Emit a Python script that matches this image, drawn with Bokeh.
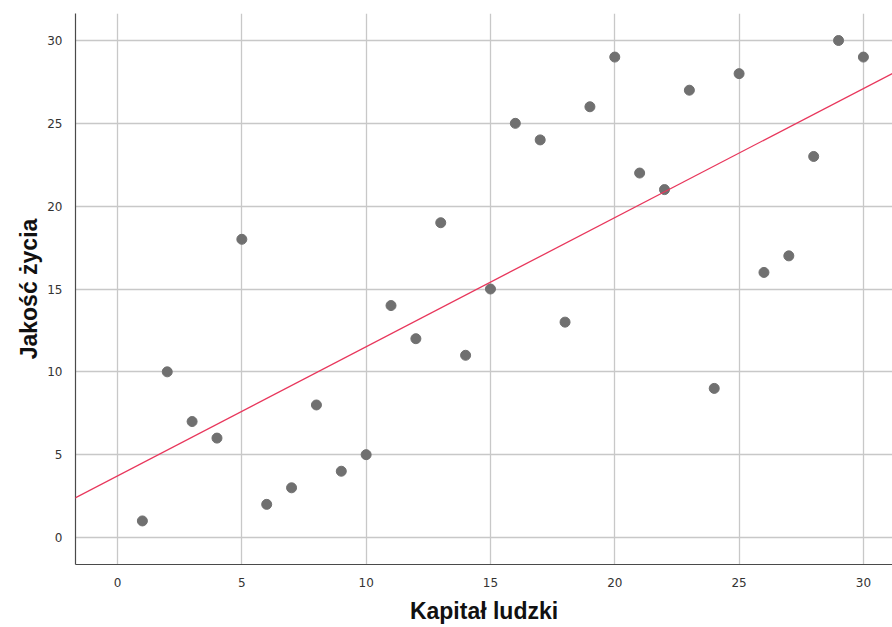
import numpy as np
from bokeh.plotting import figure
from bokeh.models import Range1d, FixedTicker, Slope, ColumnDataSource
from bokeh.embed import file_html
from bokeh.resources import INLINE

kapital = [1, 2, 3, 4, 5, 6, 7, 8, 9, 10, 11, 12, 13, 14, 15,
           16, 17, 18, 19, 20, 21, 22, 23, 24, 25, 26, 27, 28, 29, 30]
jakosc = [1, 10, 7, 6, 18, 2, 3, 8, 4, 5, 14, 12, 19, 11, 15,
          25, 24, 13, 26, 29, 22, 21, 27, 9, 28, 16, 17, 23, 30, 29]
ticks = [0, 5, 10, 15, 20, 25, 30]

slope, intercept = np.polyfit(kapital, jakosc, 1)

p = figure(width=892, height=627, output_backend="svg", toolbar_location=None,
           x_range=Range1d(-1.69, 31.17), y_range=Range1d(-1.63, 31.63),
           min_border_left=75, min_border_right=0, min_border_top=13, min_border_bottom=63)
p.outline_line_color = None
p.background_fill_color = "white"

for ax in (p.xaxis[0], p.yaxis[0]):
    ax.ticker = FixedTicker(ticks=ticks)
    ax.major_tick_line_color = None
    ax.minor_tick_line_color = None
    ax.axis_line_color = "#4a4a4a"
    ax.axis_line_width = 1.2
    ax.major_label_text_font = "DejaVu Sans"
    ax.major_label_text_font_size = "12px"
    ax.major_label_text_color = "#333333"
    ax.axis_label_text_font = "Liberation Sans"
    ax.axis_label_text_font_style = "bold"
    ax.axis_label_text_font_size = "23px"
    ax.axis_label_text_color = "#111111"

p.xaxis.axis_label = "Kapitał ludzki"
p.yaxis.axis_label = "Jakość życia"
p.xaxis.major_label_standoff = 7
p.yaxis.major_label_standoff = 7
p.xaxis.axis_label_standoff = 8
p.yaxis.axis_label_standoff = 2

p.grid.grid_line_color = "#c8c8c8"
p.grid.grid_line_width = 1.3
p.xgrid.ticker = FixedTicker(ticks=ticks)
p.ygrid.ticker = FixedTicker(ticks=ticks)

src = ColumnDataSource(dict(x=kapital, y=jakosc))
p.scatter("x", "y", source=src, size=10, fill_color="#707070", line_color="#707070")

p.add_layout(Slope(gradient=slope, y_intercept=intercept, line_color="#e8375c", line_width=1.3))

open("out.html", "w").write(file_html(p, INLINE))
